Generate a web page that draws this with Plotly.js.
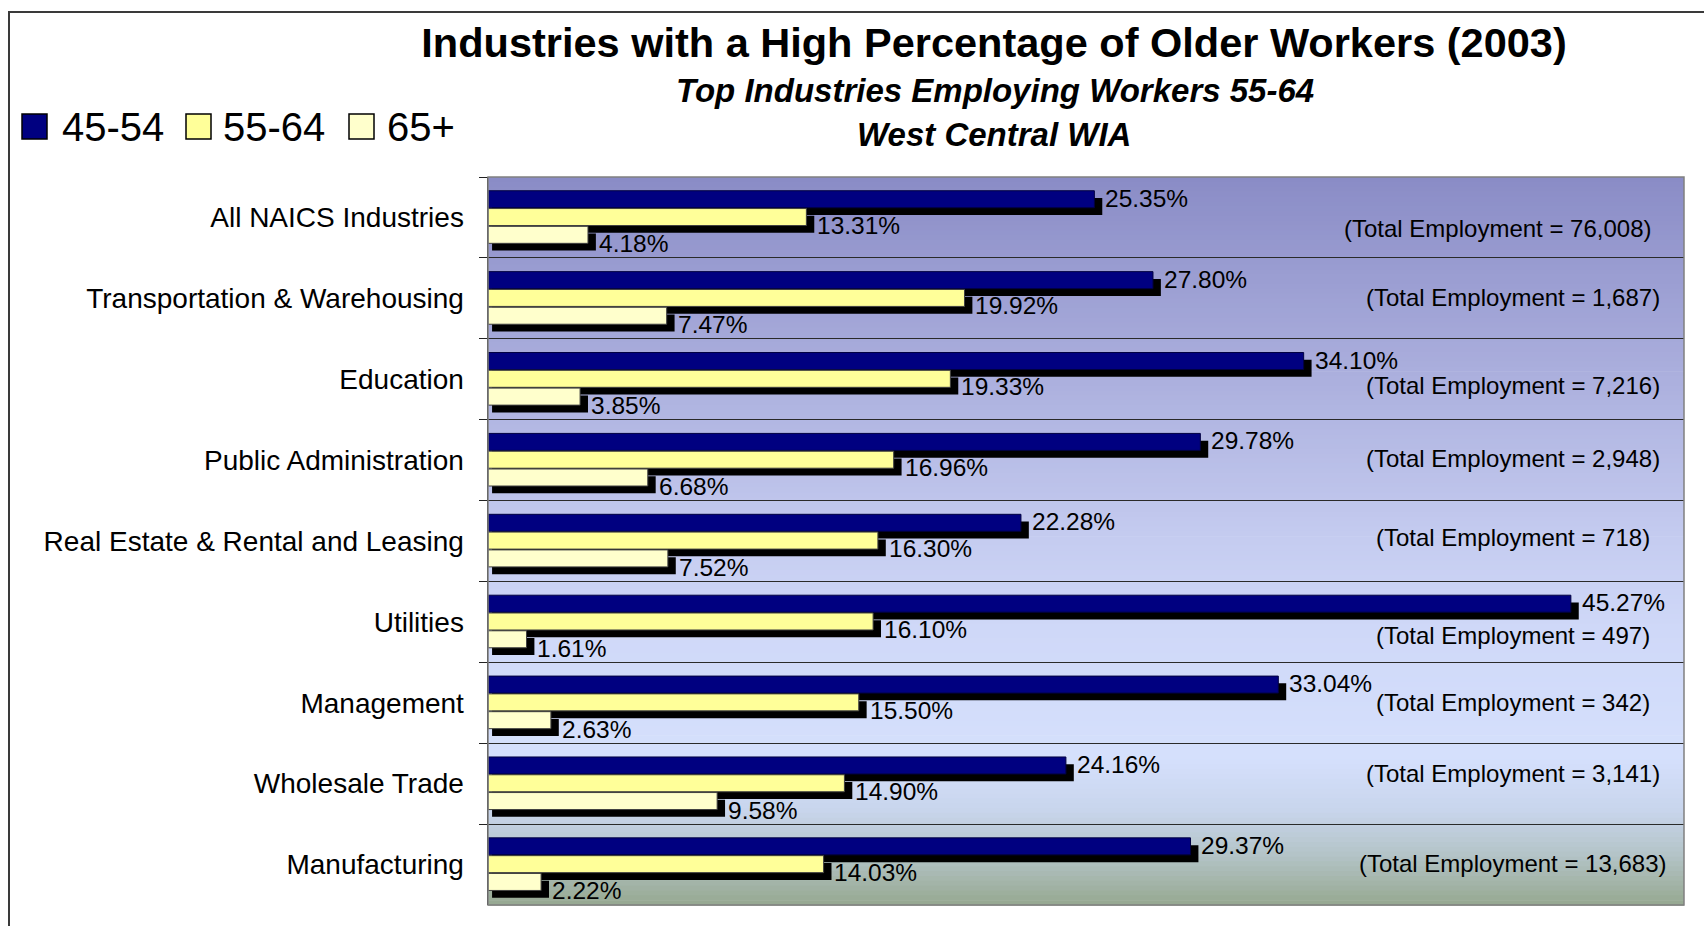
<!DOCTYPE html>
<html>
<head>
<meta charset="utf-8">
<script src="https://cdn.plot.ly/plotly-3.0.1.min.js"></script>
<style>
  html, body { margin: 0; padding: 0; background: #ffffff; overflow: hidden; }
  #wrap { position: relative; width: 1704px; height: 926px; }
  #frame { position: absolute; left: 8px; top: 11px; width: 3000px; height: 3000px;
           border: 2px solid #3a3a3a; box-sizing: border-box; pointer-events: none; z-index: 5; }
  #chart { position: absolute; left: 0; top: 0; width: 1704px; height: 926px; }
</style>
</head>
<body>
<div id="wrap">
  <div id="chart"></div>
  <div id="frame"></div>
</div>
<script>
// ---------------- data ----------------
const categories = [
  'All NAICS Industries',
  'Transportation & Warehousing',
  'Education',
  'Public Administration',
  'Real Estate & Rental and Leasing',
  'Utilities',
  'Management',
  'Wholesale Trade',
  'Manufacturing'
];
const seriesNames = ['45-54', '55-64', '65+'];
const age45to54 = [25.35, 27.80, 34.10, 29.78, 22.28, 45.27, 33.04, 24.16, 29.37];
const age55to64 = [13.31, 19.92, 19.33, 16.96, 16.30, 16.10, 15.50, 14.90, 14.03];
const age65plus = [4.18, 7.47, 3.85, 6.68, 7.52, 1.61, 2.63, 9.58, 2.22];
const totalEmployment = [76008, 1687, 7216, 2948, 718, 497, 342, 3141, 13683];

const titleText = 'Industries with a High Percentage of Older Workers (2003)';
const subtitle1 = 'Top Industries Employing Workers 55-64';
const subtitle2 = 'West Central WIA';

// ---------------- style ----------------
const FONT = 'Liberation Sans, Arial, sans-serif';
const seriesColors = ['#000080', '#FFFF99', '#FFFFCC'];
const seriesLines  = ['#000040', '#404040', '#404040'];
const slotOffset = [-0.33, -0.11, 0.11];   // bar offsets within a category band
const barWidth = 0.21;
const shadowDY = 0.09, shadowX0 = 0.17, shadowDX = 0.33;
const labelYShift = [1, -8, -9];
const totalNudgeY = [11, -1, 6, -2, -4, 14, 0, -10, -1];   // px downward for total labels
const totalNudgeX = [-15, 0, 0, 0, 0, 0, 0, 0, 0];          // px rightward for total labels
const gradientStops = [
  [0.00, [138, 140, 198]],
  [0.28, [172, 176, 222]],
  [0.50, [197, 204, 240]],
  [0.62, [207, 216, 248]],
  [0.80, [213, 224, 252]],
  [0.87, [200, 213, 236]],
  [0.93, [180, 196, 200]],
  [1.00, [150, 168, 144]]
];

const W = 1704, H = 926;
const L = 488, R = 1684, T = 177, B = 905;
const px2x = p => (p - L) / (R - L);
const px2y = p => (B - p) / (B - T);

const seriesValues = [age45to54, age55to64, age65plus];
const yIdx = categories.map((c, i) => i);

const traces = [];
// shadows first
seriesValues.forEach((vals, s) => {
  traces.push({
    type: 'bar', orientation: 'h',
    y: categories, x: vals.map(v => v + shadowDX - shadowX0), base: shadowX0,
    offset: slotOffset[s] + shadowDY, width: barWidth,
    marker: { color: '#000000', line: { width: 0 } },
    showlegend: false, hoverinfo: 'skip'
  });
});
// colored bars
seriesValues.forEach((vals, s) => {
  traces.push({
    type: 'bar', orientation: 'h', name: seriesNames[s],
    y: categories, x: vals,
    offset: slotOffset[s], width: barWidth,
    marker: { color: seriesColors[s], line: { width: 1, color: seriesLines[s] } },
    showlegend: false
  });
});

const shapes = [];
// background gradient strips
function interp(t) {
  for (let k = 0; k < gradientStops.length - 1; k++) {
    const a = gradientStops[k], b = gradientStops[k + 1];
    if (t >= a[0] && t <= b[0]) {
      const f = (t - a[0]) / (b[0] - a[0]);
      const c = a[1].map((v, j) => Math.round(v + (b[1][j] - v) * f));
      return 'rgb(' + c.join(',') + ')';
    }
  }
  return 'rgb(' + gradientStops[gradientStops.length - 1][1].join(',') + ')';
}
const N = 150;
for (let k = 0; k < N; k++) {
  const t0 = k / N, t1 = (k + 1) / N;
  shapes.push({
    type: 'rect', xref: 'paper', yref: 'paper', layer: 'below',
    x0: 0, x1: 1, y0: 1 - t1 - 0.001, y1: 1 - t0,
    fillcolor: interp((t0 + t1) / 2), line: { width: 0 }
  });
}
// plot-area border
shapes.push({
  type: 'rect', xref: 'paper', yref: 'paper', layer: 'above',
  x0: 0, x1: 1, y0: 0, y1: 1, line: { color: '#808080', width: 1.5 }, fillcolor: 'rgba(0,0,0,0)'
});

const annotations = [];
// value labels
seriesValues.forEach((vals, s) => {
  vals.forEach((v, i) => {
    annotations.push({
      xref: 'x', yref: 'y', x: v + shadowDX, y: yIdx[i] + slotOffset[s] + barWidth / 2,
      text: v.toFixed(2) + '%', showarrow: false, xanchor: 'left', yanchor: 'middle',
      xshift: 1, yshift: labelYShift[s],
      font: { family: FONT, size: 24.5, color: '#000' }
    });
  });
});
// total employment labels
totalEmployment.forEach((n, i) => {
  annotations.push({
    xref: 'paper', yref: 'y', x: px2x(1513), y: yIdx[i],
    text: '(Total Employment = ' + n.toLocaleString('en-US') + ')',
    showarrow: false, xanchor: 'center', yanchor: 'middle',
    xshift: totalNudgeX[i], yshift: -totalNudgeY[i],
    font: { family: FONT, size: 24, color: '#000' }
  });
});
// subtitles
annotations.push({
  xref: 'paper', yref: 'paper', x: px2x(995), y: px2y(91), xanchor: 'center', yanchor: 'middle',
  text: '<b><i>' + subtitle1 + '</i></b>', showarrow: false,
  font: { family: FONT, size: 33, color: '#000' }
});
annotations.push({
  xref: 'paper', yref: 'paper', x: px2x(994), y: px2y(134), xanchor: 'center', yanchor: 'middle',
  text: '<b><i>' + subtitle2 + '</i></b>', showarrow: false,
  font: { family: FONT, size: 33, color: '#000' }
});
// custom legend
const legSquareX = [22, 186, 349];
const legTextX = [60, 221, 385];
seriesNames.forEach((nm, s) => {
  shapes.push({
    type: 'rect', xref: 'paper', yref: 'paper', layer: 'above',
    x0: px2x(legSquareX[s]), x1: px2x(legSquareX[s] + 25),
    y0: px2y(139), y1: px2y(114),
    fillcolor: seriesColors[s], line: { color: '#000', width: 1.5 }
  });
  annotations.push({
    xref: 'paper', yref: 'paper', x: px2x(legTextX[s]), y: px2y(127),
    xanchor: 'left', yanchor: 'middle', text: nm, showarrow: false,
    font: { family: FONT, size: 40, color: '#000' }
  });
});

const layout = {
  width: W, height: H,
  margin: { l: L, r: W - R, t: T, b: H - B, pad: 0 },
  paper_bgcolor: '#ffffff', plot_bgcolor: 'rgba(0,0,0,0)',
  barmode: 'overlay', showlegend: false,
  title: {
    text: '<b>' + titleText + '</b>', xref: 'container', yref: 'container',
    x: 994 / W, xanchor: 'center', y: 1 - 42 / H, yanchor: 'middle',
    font: { family: FONT, size: 41.5, color: '#000' }
  },
  xaxis: { range: [0, 50], showgrid: false, zeroline: false, showticklabels: false, showline: false, ticks: '' },
  yaxis: {
    type: 'category', categoryorder: 'array', categoryarray: categories,
    range: [categories.length - 0.5, -0.5],
    tickson: 'boundaries', ticks: 'outside', ticklen: 8, tickcolor: '#222', tickwidth: 1,
    showgrid: true, gridcolor: '#2a2a2a', gridwidth: 1,
    showline: true, linecolor: '#222', linewidth: 1.5, zeroline: false,
    tickfont: { family: FONT, size: 28, color: '#000' },
    ticklabelstandoff: 17
  },
  shapes: shapes,
  annotations: annotations
};

Plotly.newPlot('chart', traces, layout, { displayModeBar: false, staticPlot: true });
</script>
</body>
</html>
